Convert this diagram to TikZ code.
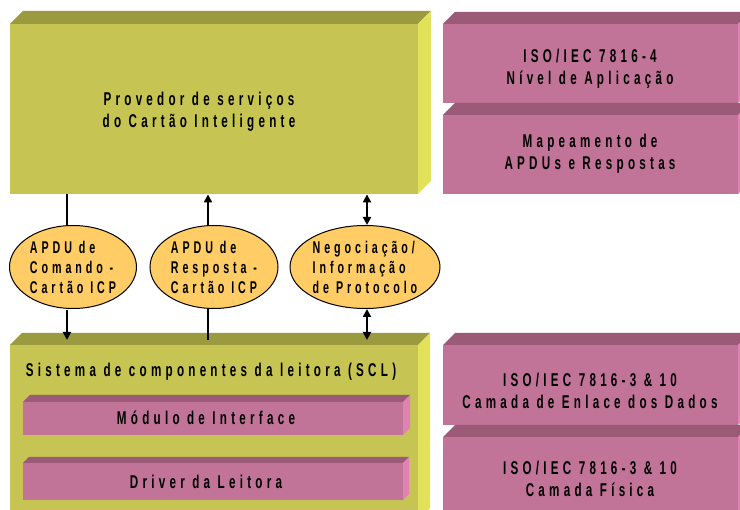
\documentclass[tikz,border=0pt]{standalone}
\usepackage{fontspec}
\usetikzlibrary{arrows.meta,shapes.geometric}
\newfontfamily\dfont[FakeStretch=0.63,LetterSpace=23]{Liberation Sans}
\definecolor{gfront}{HTML}{C6C452}
\definecolor{gtop}{HTML}{9C9A3E}
\definecolor{gside}{HTML}{E1E15A}
\definecolor{pfront}{HTML}{C27498}
\definecolor{ptop}{HTML}{9B5A78}
\definecolor{pside}{HTML}{E182B4}
\definecolor{ellfill}{HTML}{FFCC66}
\newcommand\drawcube[6]{%
  \fill[#6top] (#1,#2) -- (#1+#5,#2-#5) -- (#3+#5,#2-#5) -- (#3,#2) -- cycle;
  \fill[#6side] (#3,#2) -- (#3+#5,#2-#5) -- (#3+#5,#4-#5) -- (#3,#4) -- cycle;
}
\tikzset{
  face/.style={inner sep=0pt, anchor=north west},
  lbl/.style={font=\dfont\bfseries\fontsize{18.5}{22}\selectfont, align=center, inner sep=0pt},
  elab/.style={ellipse, draw=black, line width=1pt, fill=ellfill, inner sep=0pt,
     font=\dfont\bfseries\fontsize{17}{20}\selectfont, align=left},
  thinln/.style={line width=1.4pt},
  thickarr/.style={line width=2.4pt, -{Triangle[length=8pt,width=8pt]}},
  dblarr/.style={line width=2.4pt, {Triangle[length=8pt,width=8pt]}-{Triangle[length=8pt,width=8pt]}}
}
\begin{document}
\begin{tikzpicture}[x=1pt,y=-1pt]
\clip (0,0) rectangle (740,510);
\fill[white] (0,0) rectangle (740,510);
% top green box
\drawcube{10}{24}{418}{194}{13}{g}
\node[face, fill=gfront, minimum width=408pt, minimum height=170pt] (prov) at (10,24) {};
\node[lbl] (provt) at (199,112) {Provedor de serviços\\do Cartão Inteligente};
% right upper pink boxes
\drawcube{443}{24}{738}{103}{12}{p}
\node[face, fill=pfront, minimum width=295pt, minimum height=79pt] (iso4) at (443,24) {};
\node[lbl] (iso4t) at (590,69) {ISO/IEC 7816-4\\Nível de Aplicação};
\drawcube{443}{115}{738}{194}{12}{p}
\node[face, fill=pfront, minimum width=295pt, minimum height=79pt] (map) at (443,115) {};
\node[lbl] (mapt) at (590,154) {Mapeamento de\\APDUs e Respostas};
% lower green box
\drawcube{10}{345}{418}{520}{12}{g}
\node[face, fill=gfront, minimum width=408pt, minimum height=175pt] (scl) at (10,345) {};
\node[lbl] (sclt) at (211,372) {Sistema de componentes da leitora (SCL)};
\drawcube{23}{402}{403}{435}{7}{p}
\node[face, fill=pfront, minimum width=380pt, minimum height=33pt] (mod) at (23,402) {};
\node[lbl] (modt) at (206,418) {Módulo de Interface};
\drawcube{23}{463}{403}{500}{6}{p}
\node[face, fill=pfront, minimum width=380pt, minimum height=37pt] (drv) at (23,463) {};
\node[lbl] (drvt) at (206,482) {Driver da Leitora};
% right lower pink boxes
\drawcube{443}{345}{738}{425}{12}{p}
\node[face, fill=pfront, minimum width=295pt, minimum height=80pt] (iso3a) at (443,345) {};
\node[lbl] (iso3at) at (590,391) {ISO/IEC 7816-3 \& 10\\Camada de Enlace dos Dados};
\drawcube{443}{437}{738}{530}{12}{p}
\node[face, fill=pfront, minimum width=295pt, minimum height=93pt] (iso3b) at (443,437) {};
\node[lbl] (iso3bt) at (590,479) {ISO/IEC 7816-3 \& 10\\Camada Física};
% ellipses
\node[elab, minimum width=127pt, minimum height=83pt] (e1) at (73,267) {APDU de\\Comando -\\Cartão ICP};
\node[elab, minimum width=128pt, minimum height=83pt] (e2) at (214,267) {APDU de\\Resposta -\\Cartão ICP};
\node[elab, minimum width=150pt, minimum height=83pt] (e3) at (365,267) {Negociação/\\Informação\\de Protocolo};
% arrow x positions and free ends
\coordinate (x1) at (67,0);
\coordinate (x2) at (208,0);
\coordinate (x3) at (367,0);
\coordinate (s1) at (67,340);
\coordinate (s2) at (208,340);
\coordinate (s3) at (367,340);
% connectors
\draw[thinln] (prov.south -| x1) -- ([yshift=-1pt]e1.north -| x1);
\draw[thickarr] ([yshift=-1pt]e1.south -| x1) -- (s1);
\draw[thickarr] (e2.north -| x2) -- (prov.south -| x2);
\draw[thinln] (e2.south -| x2) -- (s2);
\draw[dblarr] (prov.south -| x3) -- (e3.north -| x3);
\draw[dblarr] (e3.south -| x3) -- (s3);
\end{tikzpicture}
\end{document}
